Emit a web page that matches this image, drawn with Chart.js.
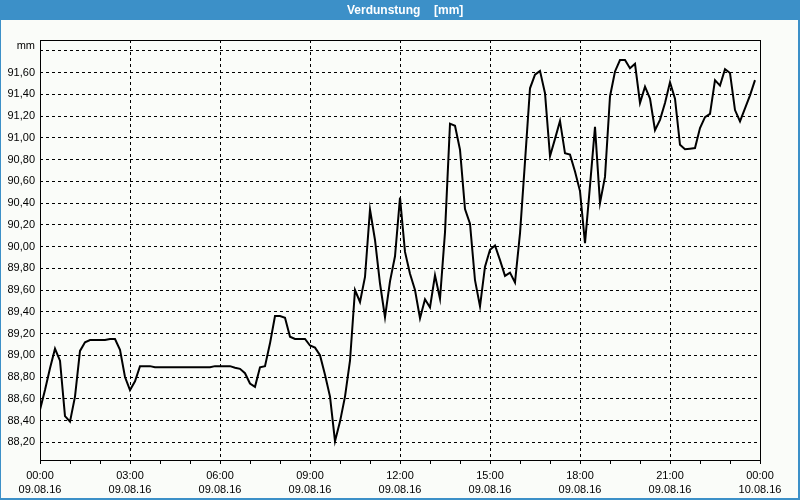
<!DOCTYPE html>
<html>
<head>
<meta charset="utf-8">
<script src="https://cdn.jsdelivr.net/npm/chart.js@4.4.1/dist/chart.umd.min.js"></script>
<style>
html,body{margin:0;padding:0;background:#fafcf9;}
#wrap{width:800px;height:500px;position:relative;}
</style>
</head>
<body>
<div id="wrap"><canvas id="c" width="800" height="500"></canvas></div>
<script>
// Evaporation readings every 10 minutes, 09.08.16 00:00 .. 23:50
const sampleMinutes = 10;
const values = [
  88.50, 88.68, 88.88, 89.06, 88.95, 88.44, 88.39, 88.62, 89.04, 89.12,
  89.14, 89.14, 89.14, 89.14, 89.15, 89.15, 89.05, 88.80, 88.68, 88.76,
  88.90, 88.90, 88.90, 88.89, 88.89, 88.89, 88.89, 88.89, 88.89, 88.89,
  88.89, 88.89, 88.89, 88.89, 88.89, 88.90, 88.90, 88.90, 88.90, 88.885,
  88.875, 88.835, 88.74, 88.71, 88.89, 88.90, 89.11, 89.36, 89.36, 89.345,
  89.17, 89.15, 89.15, 89.15, 89.09, 89.07, 89.00, 88.82, 88.62, 88.21,
  88.39, 88.62, 88.95, 89.60, 89.49, 89.72, 90.34, 90.06, 89.66, 89.35,
  89.68, 89.91, 90.45, 89.95, 89.75, 89.60, 89.34, 89.515, 89.44, 89.735,
  89.52, 90.13, 91.13, 91.11, 90.89, 90.345, 90.21, 89.69, 89.45, 89.815,
  89.97, 90.01, 89.875, 89.73, 89.76, 89.67, 90.12, 90.78, 91.455, 91.58,
  91.615, 91.41, 90.83, 90.99, 91.155, 90.857, 90.845, 90.69, 90.51, 90.03,
  90.56, 91.10, 90.40, 90.64, 91.38, 91.61, 91.715, 91.715, 91.64, 91.68,
  91.32, 91.47, 91.36, 91.07, 91.165, 91.32, 91.51, 91.36, 90.935, 90.895,
  90.90, 90.905, 91.09, 91.19, 91.22, 91.53, 91.48, 91.63, 91.595, 91.255,
  91.15, 91.27, 91.39, 91.53
];
const yTicks = [88.2, 88.4, 88.6, 88.8, 89.0, 89.2, 89.4, 89.6, 89.8, 90.0,
                90.2, 90.4, 90.6, 90.8, 91.0, 91.2, 91.4, 91.6, 91.8];
const xTickMinutes = [0, 60, 120, 180, 240, 300, 360, 420, 480, 540, 600, 660, 720,
                      780, 840, 900, 960, 1020, 1080, 1140, 1200, 1260, 1320, 1380, 1440];
const timeLabels = ['00:00', '03:00', '06:00', '09:00', '12:00', '15:00', '18:00', '21:00', '00:00'];
const dateLabels = ['09.08.16', '09.08.16', '09.08.16', '09.08.16', '09.08.16', '09.08.16', '09.08.16', '09.08.16', '10.08.16'];
const titleParts = ['Verdunstung', '[mm]'];
const unitLabel = 'mm';

const points = values.map((v, i) => ({x: i * sampleMinutes, y: v}));

const frame = {
  id: 'frame',
  beforeDraw(chart) {
    const ctx = chart.ctx;
    ctx.save();
    ctx.fillStyle = '#fafcf9';
    ctx.fillRect(0, 0, 800, 500);
    ctx.fillStyle = '#3c90c8';
    ctx.fillRect(0, 0, 800, 20);
    ctx.fillStyle = '#ffffff';
    ctx.font = 'bold 12px "Liberation Sans", Arial, sans-serif';
    ctx.textBaseline = 'middle';
    ctx.textAlign = 'left';
    ctx.fillText(titleParts[0], 347, 10.5);
    ctx.fillText(titleParts[1], 434, 10.5);
    ctx.restore();
  },
  afterDraw(chart) {
    const ctx = chart.ctx;
    const a = chart.chartArea;
    ctx.save();
    ctx.strokeStyle = '#000';
    ctx.lineWidth = 1;
    ctx.strokeRect(Math.round(a.left) + 0.5, Math.round(a.top) + 0.5,
                   Math.round(a.right - a.left), Math.round(a.bottom - a.top));
    ctx.fillStyle = '#000';
    ctx.font = '11px "Liberation Sans", Arial, sans-serif';
    ctx.textAlign = 'right';
    ctx.textBaseline = 'middle';
    ctx.fillText(unitLabel, 35, 46);
    ctx.fillStyle = '#3c90c8';
    ctx.fillRect(0, 0, 1, 500);
    ctx.fillRect(798, 0, 2, 500);
    ctx.fillRect(0, 498, 800, 2);
    ctx.restore();
  }
};

new Chart(document.getElementById('c'), {
  type: 'line',
  data: {
    datasets: [{
      data: points,
      borderColor: '#000000',
      borderWidth: 2,
      pointRadius: 0,
      tension: 0,
      fill: false
    }]
  },
  options: {
    responsive: false,
    animation: false,
    events: [],
    layout: {padding: {left: 0, right: 40, top: 40, bottom: 0}},
    plugins: {
      legend: {display: false},
      tooltip: {enabled: false},
      title: {display: false}
    },
    scales: {
      x: {
        type: 'linear',
        min: 0,
        max: 1440,
        afterBuildTicks: s => { s.ticks = xTickMinutes.map(v => ({value: v})); },
        afterFit: s => { s.height = 40; },
        border: {display: false, dash: [3, 3]},
        grid: {
          color: c => (c.tick && c.tick.value % 180 === 0 && c.tick.value > 0 && c.tick.value < 1440) ? '#000000' : 'rgba(0,0,0,0)',
          tickColor: '#000000',
          tickLength: 4,
          lineWidth: 1,
          drawTicks: true
        },
        ticks: {
          autoSkip: false,
          maxRotation: 0,
          minRotation: 0,
          padding: 4,
          color: '#000000',
          font: {family: '"Liberation Sans", Arial, sans-serif', size: 11, lineHeight: 1.36},
          callback: v => {
            if (v % 180 !== 0) return '';
            const k = v / 180;
            return [timeLabels[k], dateLabels[k]];
          }
        }
      },
      y: {
        type: 'linear',
        min: 88.037,
        max: 91.899,
        afterBuildTicks: s => { s.ticks = yTicks.map(v => ({value: v})); },
        afterFit: s => { s.width = 40; },
        border: {display: false, dash: [3, 3]},
        grid: {
          color: '#000000',
          lineWidth: 1,
          drawTicks: false
        },
        ticks: {
          padding: 5,
          color: '#000000',
          font: {family: '"Liberation Sans", Arial, sans-serif', size: 11},
          callback: v => (Math.abs(v - 91.8) < 1e-6) ? '' : v.toFixed(2).replace('.', ',')
        }
      }
    }
  },
  plugins: [frame]
});
</script>
</body>
</html>
